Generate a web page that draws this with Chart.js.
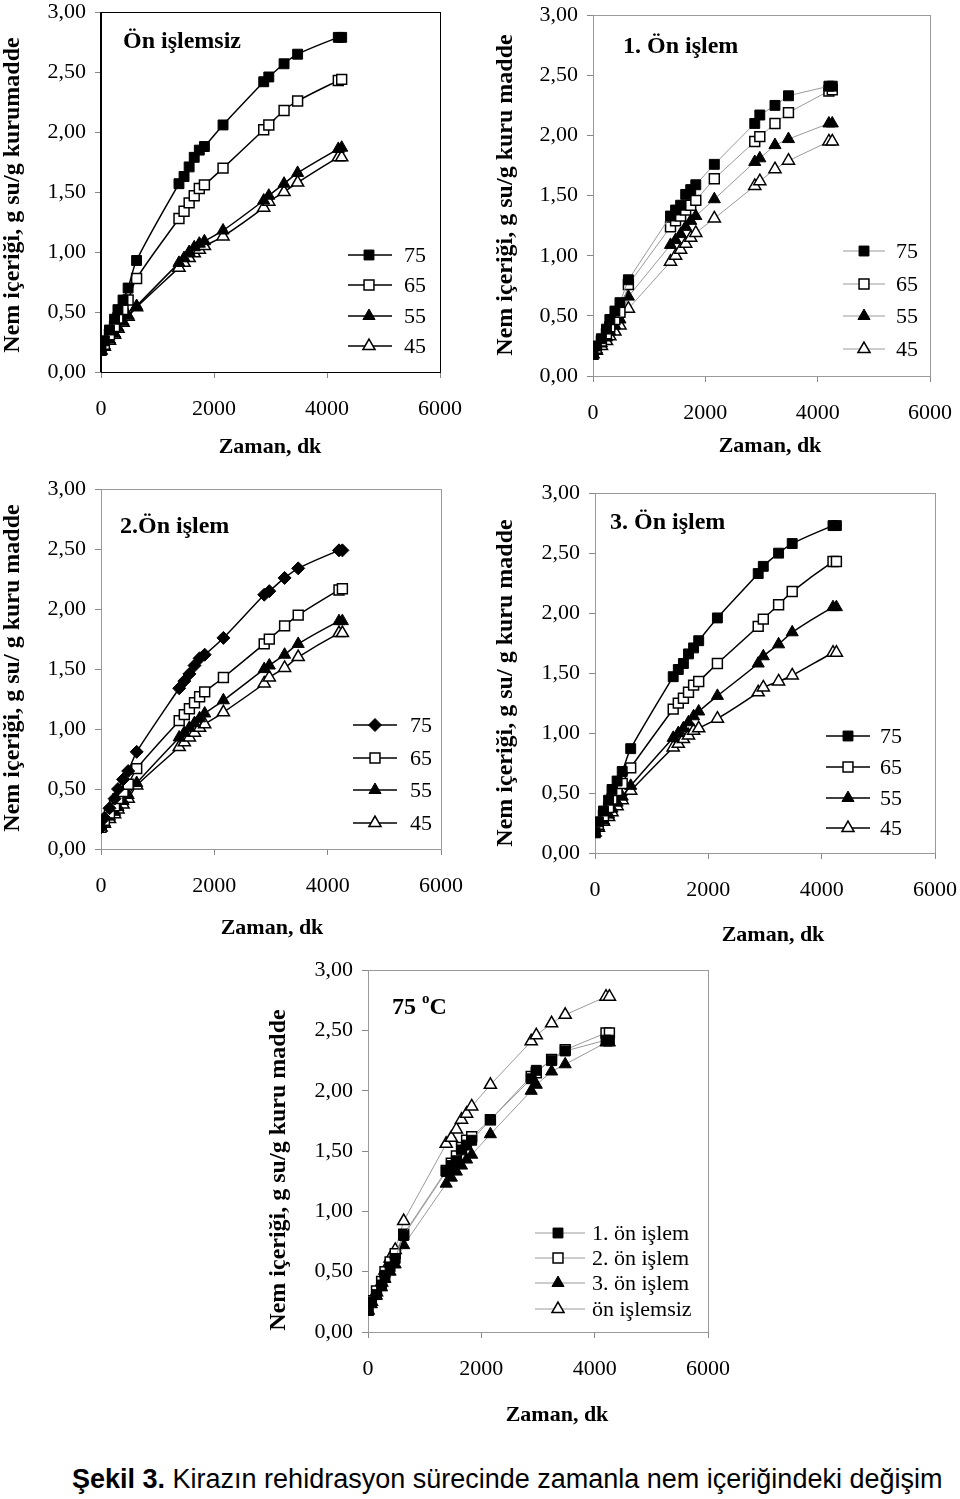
<!DOCTYPE html>
<html><head><meta charset="utf-8">
<script src="https://cdn.jsdelivr.net/npm/chart.js@4/dist/chart.umd.min.js"></script>
<style>
html,body{margin:0;padding:0;background:#fff;}
body{width:960px;height:1499px;position:relative;overflow:hidden;}
canvas{position:absolute;}
#caption{position:absolute;left:72px;top:1464px;font-family:'Liberation Sans',Arial,sans-serif;font-size:27px;white-space:nowrap;color:#000;}
</style></head><body>
<canvas id="c1"></canvas><canvas id="c2"></canvas><canvas id="c3"></canvas><canvas id="c4"></canvas><canvas id="c5"></canvas>
<div id="caption"><b>Şekil 3.</b> Kirazın rehidrasyon sürecinde zamanla nem içeriğindeki değişim</div>
<script>
// ---- DATA ----
const zaman = [0, 60, 150, 240, 300, 390, 480, 630, 1380, 1470, 1560, 1650, 1740, 1830, 2160, 2880, 2970, 3240, 3480, 4200, 4260];
const xTicks = [0, 2000, 4000, 6000];
const yTicks = [0, 0.5, 1, 1.5, 2, 2.5, 3];
const sicaklikEtiket = ['75', '65', '55', '45'];
const onIslemEtiket = ['1. ön işlem', '2. ön işlem', '3. ön işlem', 'ön işlemsiz'];

// Ön işlemsiz
const p1_75 = [0.18, 0.26, 0.35, 0.44, 0.52, 0.60, 0.70, 0.93, 1.57, 1.63, 1.71, 1.79, 1.85, 1.88, 2.06, 2.42, 2.46, 2.57, 2.65, 2.79, 2.79];
const p1_65 = [0.18, 0.23, 0.31, 0.38, 0.45, 0.52, 0.60, 0.78, 1.28, 1.34, 1.41, 1.47, 1.53, 1.56, 1.70, 2.02, 2.06, 2.18, 2.26, 2.43, 2.44];
const p1_55 = [0.18, 0.22, 0.27, 0.32, 0.37, 0.42, 0.47, 0.55, 0.91, 0.95, 1.00, 1.04, 1.07, 1.09, 1.18, 1.43, 1.47, 1.57, 1.66, 1.86, 1.87];
const p1_45 = [0.18, 0.21, 0.26, 0.31, 0.36, 0.41, 0.46, 0.54, 0.87, 0.91, 0.95, 0.99, 1.02, 1.05, 1.13, 1.37, 1.42, 1.50, 1.58, 1.79, 1.79];
// 1. Ön işlem
const p2_75 = [0.18, 0.25, 0.31, 0.39, 0.47, 0.54, 0.61, 0.80, 1.33, 1.38, 1.42, 1.51, 1.55, 1.59, 1.76, 2.10, 2.17, 2.25, 2.33, 2.41, 2.41];
const p2_65 = [0.18, 0.23, 0.29, 0.35, 0.41, 0.47, 0.53, 0.76, 1.24, 1.29, 1.33, 1.38, 1.42, 1.46, 1.64, 1.95, 1.99, 2.10, 2.19, 2.37, 2.38];
const p2_55 = [0.18, 0.22, 0.27, 0.32, 0.37, 0.42, 0.47, 0.66, 1.09, 1.13, 1.18, 1.24, 1.29, 1.33, 1.47, 1.78, 1.81, 1.92, 1.97, 2.10, 2.10];
const p2_45 = [0.18, 0.21, 0.25, 0.29, 0.33, 0.37, 0.42, 0.56, 0.95, 1.00, 1.05, 1.10, 1.15, 1.19, 1.31, 1.58, 1.62, 1.72, 1.79, 1.95, 1.95];
// 2. Ön işlem
const p3_75 = [0.18, 0.26, 0.34, 0.42, 0.50, 0.58, 0.65, 0.81, 1.34, 1.40, 1.46, 1.53, 1.59, 1.62, 1.76, 2.12, 2.15, 2.26, 2.34, 2.49, 2.49];
const p3_65 = [0.18, 0.24, 0.30, 0.36, 0.42, 0.48, 0.54, 0.67, 1.07, 1.12, 1.17, 1.22, 1.27, 1.31, 1.43, 1.71, 1.75, 1.86, 1.95, 2.16, 2.17];
const p3_55 = [0.18, 0.22, 0.27, 0.31, 0.35, 0.40, 0.45, 0.55, 0.93, 0.97, 1.01, 1.05, 1.09, 1.13, 1.24, 1.50, 1.53, 1.62, 1.71, 1.90, 1.90];
const p3_45 = [0.18, 0.21, 0.25, 0.29, 0.33, 0.37, 0.42, 0.53, 0.85, 0.89, 0.93, 0.97, 1.01, 1.04, 1.14, 1.38, 1.43, 1.51, 1.60, 1.80, 1.80];
// 3. Ön işlem
const p4_75 = [0.17, 0.26, 0.35, 0.44, 0.53, 0.60, 0.68, 0.87, 1.47, 1.53, 1.58, 1.66, 1.71, 1.77, 1.96, 2.33, 2.39, 2.50, 2.58, 2.73, 2.73];
const p4_65 = [0.17, 0.24, 0.31, 0.38, 0.45, 0.52, 0.58, 0.71, 1.20, 1.25, 1.29, 1.34, 1.40, 1.43, 1.58, 1.89, 1.95, 2.07, 2.18, 2.43, 2.43];
const p4_55 = [0.17, 0.22, 0.27, 0.32, 0.37, 0.42, 0.47, 0.56, 0.96, 1.00, 1.04, 1.09, 1.14, 1.18, 1.31, 1.58, 1.64, 1.74, 1.84, 2.05, 2.05];
const p4_45 = [0.17, 0.21, 0.26, 0.30, 0.34, 0.39, 0.44, 0.52, 0.88, 0.91, 0.95, 0.98, 1.02, 1.04, 1.12, 1.34, 1.38, 1.43, 1.48, 1.67, 1.67];
// 75 °C
const p5_on1 = [0.18, 0.25, 0.31, 0.39, 0.47, 0.54, 0.61, 0.80, 1.33, 1.38, 1.42, 1.51, 1.55, 1.59, 1.76, 2.10, 2.17, 2.25, 2.33, 2.42, 2.42];
const p5_on2 = [0.18, 0.26, 0.34, 0.42, 0.50, 0.58, 0.65, 0.81, 1.34, 1.40, 1.46, 1.53, 1.59, 1.62, 1.76, 2.12, 2.15, 2.26, 2.34, 2.48, 2.48];
const p5_on3 = [0.17, 0.23, 0.30, 0.37, 0.44, 0.50, 0.56, 0.72, 1.23, 1.28, 1.33, 1.38, 1.43, 1.47, 1.64, 2.00, 2.05, 2.16, 2.22, 2.40, 2.40];
const p5_siz = [0.18, 0.25, 0.33, 0.41, 0.51, 0.61, 0.68, 0.92, 1.56, 1.61, 1.68, 1.76, 1.81, 1.87, 2.05, 2.41, 2.46, 2.56, 2.63, 2.78, 2.78];

// ---- STYLE / LAYOUT ----
const FONT = "'Liberation Serif', 'Times New Roman', serif";
const mk = [
  {ps:'rect', fill:true}, {ps:'rect', fill:false}, {ps:'triangle', fill:true}, {ps:'triangle', fill:false}
];
const panels = [
  {id:'c1', L:101, T:10, R:440, B:372, line:'#000', lw:1.5, tension:0.3, box:'#000',
   ytitle:'Nem içeriği, g su/g kurumadde', ytX:13, ytY:195, xtX:270, xtY:447,
   title:'Ön işlemsiz', tX:123, tY:42,
   leg:{x1:348, x2:392, mx:369, tx:404, ys:[255,285,316,346]},
   series:[p1_75,p1_65,p1_55,p1_45], labels:sicaklikEtiket, markers:mk},
  {id:'c2', L:593, T:13, R:930, B:376, line:'#9a9a9a', lw:1, tension:0, box:'#9a9a9a',
   ytitle:'Nem içeriği, g su/g kuru madde', ytX:506, ytY:195, xtX:770, xtY:446,
   title:'1. Ön işlem', tX:623, tY:47,
   leg:{x1:843, x2:885, mx:864, tx:896, ys:[251,284,316,349]},
   series:[p2_75,p2_65,p2_55,p2_45], labels:sicaklikEtiket, markers:mk},
  {id:'c3', L:101, T:487, R:441, B:849, line:'#000', lw:1.5, tension:0.25, box:'#9a9a9a',
   ytitle:'Nem içeriği, g su/ g kuru madde', ytX:13, ytY:668, xtX:272, xtY:928,
   title:'2.Ön işlem', tX:120, tY:527,
   leg:{x1:353, x2:397, mx:375, tx:410, ys:[725,758,790,823]},
   series:[p3_75,p3_65,p3_55,p3_45], labels:sicaklikEtiket,
   markers:[{ps:'rectRot', fill:true}, mk[1], mk[2], mk[3]]},
  {id:'c4', L:595, T:491, R:935, B:853, line:'#000', lw:1.5, tension:0.25, box:'#9a9a9a',
   ytitle:'Nem içeriği, g su/ g kuru madde', ytX:506, ytY:683, xtX:773, xtY:935,
   title:'3. Ön işlem', tX:610, tY:523,
   leg:{x1:826, x2:870, mx:848, tx:880, ys:[736,767,798,828]},
   series:[p4_75,p4_65,p4_55,p4_45], labels:sicaklikEtiket, markers:mk},
  {id:'c5', L:368, T:968, R:708, B:1332, line:'#9a9a9a', lw:1, tension:0, box:'#9a9a9a',
   ytitle:'Nem içeriği, g su/g kuru madde', ytX:279, ytY:1170, xtX:557, xtY:1415,
   title:null, tX:392, tY:1008,
   leg:{x1:535, x2:585, mx:558, tx:592, ys:[1233,1258,1283,1309]},
   series:[p5_on1,p5_on2,p5_on3,p5_siz], labels:onIslemEtiket,
   markers:[mk[0], mk[1], mk[2], mk[3]]}
];

function drawMarker(ctx, ps, x, y, r, fill) {
  ctx.beginPath();
  if (ps === 'rect') { const s = Math.SQRT1_2 * r; ctx.rect(x - s, y - s, 2 * s, 2 * s); }
  else if (ps === 'rectRot') { ctx.moveTo(x - r, y); ctx.lineTo(x, y - r); ctx.lineTo(x + r, y); ctx.lineTo(x, y + r); ctx.closePath(); }
  else { for (let k = 0; k < 3; k++) { const a = k * 2 * Math.PI / 3; const px = x + Math.sin(a) * r, py = y - Math.cos(a) * r; if (k === 0) ctx.moveTo(px, py); else ctx.lineTo(px, py); } ctx.closePath(); }
  ctx.fillStyle = fill ? '#000' : '#fff'; ctx.fill();
  ctx.lineWidth = fill ? 1 : 1.5; ctx.strokeStyle = '#000'; ctx.stroke();
}
function radiusOf(ps) { return ps === 'rectRot' ? 6.5 : 7; }

panels.forEach(p => {
  const cv = document.getElementById(p.id);
  const cl = p.L - 100, ct = p.T - 20;
  const cw = (p.R - p.L) + 140, ch = (p.B - p.T) + 120;
  cv.style.left = cl + 'px'; cv.style.top = ct + 'px';
  cv.width = cw; cv.height = ch;
  cv.style.width = cw + 'px'; cv.style.height = ch + 'px';

  const datasets = p.series.map((arr, i) => ({
    label: p.labels[i],
    data: zaman.map((x, j) => ({x: x, y: arr[j]})),
    borderColor: p.line, borderWidth: p.lw, tension: p.tension,
    pointStyle: p.markers[i].ps, pointRadius: radiusOf(p.markers[i].ps),
    pointBackgroundColor: p.markers[i].fill ? '#000' : '#fff',
    pointBorderColor: '#000', pointBorderWidth: p.markers[i].fill ? 1 : 1.5,
    pointHoverRadius: radiusOf(p.markers[i].ps), fill: false
  }));

  const deco = {
    id: 'deco' + p.id,
    beforeDatasetsDraw(chart) {
      const ctx = chart.ctx, a = chart.chartArea;
      ctx.save();
      ctx.strokeStyle = p.box; ctx.lineWidth = 1;
      ctx.strokeRect(Math.round(a.left) + 0.5, Math.round(a.top) + 0.5, Math.round(a.right - a.left), Math.round(a.bottom - a.top));
      if (p.id === 'c1') { ctx.strokeStyle = '#000'; ctx.lineWidth = 2; ctx.beginPath(); ctx.moveTo(a.left, a.top); ctx.lineTo(a.left, a.bottom); ctx.stroke(); }
      ctx.restore();
    },
    afterDraw(chart) {
      const ctx = chart.ctx;
      ctx.save();
      ctx.translate(-cl, -ct);
      ctx.fillStyle = '#000';
      // legend
      p.labels.forEach((lab, i) => {
        const y = p.leg.ys[i];
        ctx.strokeStyle = p.line; ctx.lineWidth = p.lw;
        ctx.beginPath(); ctx.moveTo(p.leg.x1, y); ctx.lineTo(p.leg.x2, y); ctx.stroke();
        drawMarker(ctx, p.markers[i].ps, p.leg.mx, y, radiusOf(p.markers[i].ps), p.markers[i].fill);
        ctx.fillStyle = '#000'; ctx.font = '22px ' + FONT; ctx.textAlign = 'left'; ctx.textBaseline = 'middle';
        ctx.fillText(lab, p.leg.tx, y + 1);
      });
      // panel title
      ctx.font = 'bold 24px ' + FONT; ctx.textBaseline = 'middle'; ctx.textAlign = 'left';
      if (p.title) {
        ctx.fillText(p.title, p.tX, p.tY);
      } else {
        ctx.fillText('75', p.tX, p.tY);
        const w = ctx.measureText('75 ').width;
        ctx.font = 'bold 15px ' + FONT;
        ctx.fillText('o', p.tX + w, p.tY - 9);
        const w2 = ctx.measureText('o').width;
        ctx.font = 'bold 24px ' + FONT;
        ctx.fillText('C', p.tX + w + w2, p.tY);
      }
      // x title
      ctx.font = 'bold 22px ' + FONT; ctx.textAlign = 'center'; ctx.textBaseline = 'middle';
      ctx.fillText('Zaman, dk', p.xtX, p.xtY);
      // y title
      ctx.font = 'bold 24px ' + FONT;
      ctx.translate(p.ytX, p.ytY); ctx.rotate(-Math.PI / 2);
      ctx.fillText(p.ytitle, 0, 0);
      ctx.restore();
    }
  };

  new Chart(cv, {
    type: 'line',
    data: {datasets: datasets},
    options: {
      responsive: false, animation: false, devicePixelRatio: 1,
      layout: {padding: {left: 0, top: 20, right: 40, bottom: 0}},
      plugins: {legend: {display: false}, tooltip: {enabled: false}},
      scales: {
        x: {type: 'linear', min: 0, max: 6000,
            afterFit(s) { s.height = 100; },
            afterBuildTicks(s) { s.ticks = xTicks.map(v => ({value: v})); },
            ticks: {color: '#000', font: {family: FONT, size: 22}, padding: 18, maxRotation: 0, callback: v => String(v)},
            grid: {drawOnChartArea: false, drawTicks: true, tickLength: 6, color: '#888'},
            border: {display: false}},
        y: {min: 0, max: 3,
            afterFit(s) { s.width = 100; },
            afterBuildTicks(s) { s.ticks = yTicks.map(v => ({value: v})); },
            ticks: {color: '#000', font: {family: FONT, size: 22}, padding: 9, callback: v => v.toFixed(2).replace('.', ',')},
            grid: {drawOnChartArea: false, drawTicks: true, tickLength: 6, color: '#888'},
            border: {display: false}}
      }
    },
    plugins: [deco]
  });
});
</script>
</body></html>
